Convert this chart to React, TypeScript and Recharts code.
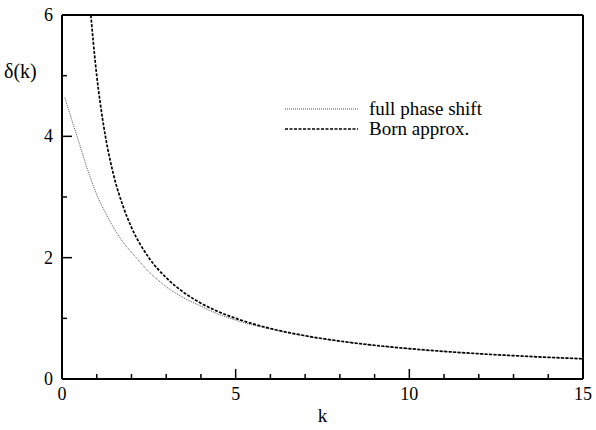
import { LineChart, Line, XAxis, YAxis, Legend } from 'recharts';

// full phase shift, read at each k
const fullK = [0.08, 0.25, 0.5, 0.75, 1.0, 1.25, 1.5, 1.75, 2.0, 2.5, 3.0, 3.5, 4.0, 4.5, 5, 6, 7, 8, 9, 10, 11, 12, 13, 14, 15];
const fullDelta = [4.64, 4.33, 3.88, 3.43, 3.04, 2.74, 2.48, 2.26, 2.09, 1.77, 1.52, 1.34, 1.2, 1.07, 0.97, 0.822, 0.709, 0.621, 0.553, 0.498, 0.453, 0.415, 0.384, 0.357, 0.333];

// Born approximation
const bornK = [0.83, 0.9, 1.0, 1.1, 1.25, 1.5, 1.75, 2.0, 2.5, 3.0, 3.5, 4.0, 4.5, 5, 6, 7, 8, 9, 10, 11, 12, 13, 14, 15];
const bornDelta = [6.0, 5.56, 5.0, 4.55, 4.0, 3.33, 2.86, 2.5, 2.0, 1.67, 1.43, 1.25, 1.11, 1.0, 0.833, 0.714, 0.625, 0.556, 0.5, 0.455, 0.417, 0.385, 0.357, 0.333];

const xTicks = [0, 1, 2, 3, 4, 5, 6, 7, 8, 9, 10, 11, 12, 13, 14, 15];
const xLabelTicks = [0, 5, 10, 15];
const yTicks = [0, 1, 2, 3, 4, 5, 6];
const yLabelTicks = [0, 2, 4, 6];

const FONT = '"Liberation Serif", "Times New Roman", serif';

const fullData = fullK.map((k, i) => ({ k, delta: fullDelta[i] }));
const bornData = bornK.map((k, i) => ({ k, delta: bornDelta[i] }));

const series = [
  { name: 'full phase shift', data: fullData, color: '#555', dash: '1 1', width: 1 },
  { name: 'Born approx.', data: bornData, color: '#000', dash: '3 1.5', width: 1.7 },
];

const axisLine = { stroke: '#000', strokeWidth: 2 };

// ticks point inward; long ones carry labels
const BottomTick = ({ x, y, payload }: any) => {
  const major = xLabelTicks.includes(payload.value);
  return (
    <g>
      <line x1={x} y1={y} x2={x} y2={y - (major ? 10 : 5)} stroke="#000" strokeWidth={1.5} />
      {major && (
        <text x={x} y={y + 21} textAnchor="middle" fontFamily={FONT} fontSize={18} fill="#000">
          {payload.value}
        </text>
      )}
    </g>
  );
};

const TopTick = ({ x, y, payload }: any) => {
  const major = xLabelTicks.includes(payload.value);
  return <line x1={x} y1={y} x2={x} y2={y + (major ? 10 : 5)} stroke="#000" strokeWidth={1.5} />;
};

const LeftTick = ({ x, y, payload }: any) => {
  const major = yLabelTicks.includes(payload.value);
  return (
    <g>
      <line x1={x} y1={y} x2={x + (major ? 10 : 5)} y2={y} stroke="#000" strokeWidth={1.5} />
      {major && (
        <text x={x - 9} y={y + 6} textAnchor="end" fontFamily={FONT} fontSize={18} fill="#000">
          {payload.value}
        </text>
      )}
    </g>
  );
};

const RightTick = ({ x, y, payload }: any) => {
  const major = yLabelTicks.includes(payload.value);
  return <line x1={x} y1={y} x2={x - (major ? 10 : 5)} y2={y} stroke="#000" strokeWidth={1.5} />;
};

// legend drawn in series order
const renderLegend = () => (
  <div style={{ fontFamily: FONT, fontSize: 19, color: '#000' }}>
    {series.map((s) => (
      <div key={s.name} style={{ display: 'flex', alignItems: 'center', height: 20 }}>
        <svg width={74} height={20}>
          <line x1={0} y1={10} x2={73} y2={10} stroke={s.color} strokeWidth={s.width} strokeDasharray={s.dash} />
        </svg>
        <span style={{ marginLeft: 10, lineHeight: '20px' }}>{s.name}</span>
      </div>
    ))}
  </div>
);

export default function App() {
  return (
    <div style={{ position: 'absolute', left: 0, top: 0, background: '#fff' }}>
      <LineChart width={596} height={430} margin={{ top: 0, right: 0, bottom: 0, left: 0 }}>
        <XAxis
          xAxisId="bottom"
          dataKey="k"
          type="number"
          domain={[0, 15]}
          ticks={xTicks}
          interval={0}
          height={51}
          tickSize={0}
          tickMargin={0}
          tickLine={false}
          axisLine={axisLine}
          tick={<BottomTick />}
          label={{ value: 'k', position: 'insideBottom', offset: 8, fontFamily: FONT, fontSize: 19, fill: '#000' }}
        />
        <XAxis
          xAxisId="top"
          orientation="top"
          dataKey="k"
          type="number"
          domain={[0, 15]}
          ticks={xTicks}
          interval={0}
          height={15}
          tickSize={0}
          tickMargin={0}
          tickLine={false}
          axisLine={axisLine}
          tick={<TopTick />}
        />
        <YAxis
          yAxisId="left"
          type="number"
          domain={[0, 6]}
          ticks={yTicks}
          interval={0}
          width={62}
          tickSize={0}
          tickMargin={0}
          tickLine={false}
          axisLine={axisLine}
          tick={<LeftTick />}
          label={{
            content: () => (
              <text x={4} y={78} fontFamily={FONT} fontSize={20} fill="#000">
                δ(k)
              </text>
            ),
          }}
        />
        <YAxis
          yAxisId="right"
          orientation="right"
          type="number"
          domain={[0, 6]}
          ticks={yTicks}
          interval={0}
          width={13}
          tickSize={0}
          tickMargin={0}
          tickLine={false}
          axisLine={axisLine}
          tick={<RightTick />}
        />
        <Legend
          layout="vertical"
          align="center"
          verticalAlign="middle"
          content={renderLegend}
          wrapperStyle={{ left: 285, top: 99, width: 240 }}
        />
        {series.map((s) => (
          <Line
            key={s.name}
            name={s.name}
            data={s.data}
            dataKey="delta"
            xAxisId="bottom"
            yAxisId="left"
            type="monotone"
            stroke={s.color}
            strokeWidth={s.width}
            strokeDasharray={s.dash}
            dot={false}
            activeDot={false}
            isAnimationActive={false}
          />
        ))}
      </LineChart>
    </div>
  );
}
